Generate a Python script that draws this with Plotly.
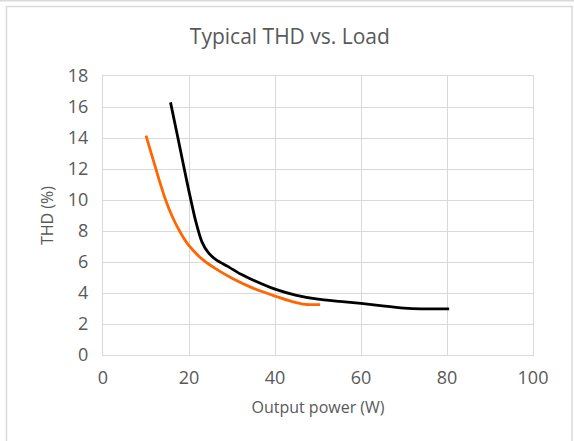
import plotly.graph_objects as go

# Data
black_x = [15.7, 17.5, 19.5, 21.5, 23.0, 24.5, 26.5, 29.0, 32.0, 35.0, 40.0, 45.0, 50.0, 55.0, 60.0, 65.0, 70.0, 74.0, 80.5]
black_y = [16.3, 13.9, 11.2, 8.7, 7.3, 6.6, 6.1, 5.72, 5.22, 4.82, 4.25, 3.85, 3.6, 3.46, 3.33, 3.17, 3.03, 2.98, 2.98]

orange_x = [10.0, 11.5, 13.0, 14.5, 16.0, 18.0, 20.0, 23.0, 26.0, 30.0, 35.0, 40.0, 44.0, 47.0, 50.5]
orange_y = [14.15, 12.75, 11.35, 10.05, 9.0, 7.9, 7.05, 6.2, 5.6, 4.95, 4.3, 3.8, 3.45, 3.27, 3.25]

x_ticks = [0, 20, 40, 60, 80, 100]
y_ticks = [0, 2, 4, 6, 8, 10, 12, 14, 16, 18]

W, H = 574, 441
L, R, T, B = 103, 41, 76, 86
PW, PH = W - L - R, H - T - B

def px(x):
    return (x - L) / PW

def py(y):
    return (H - B - y) / PH

font = "Open Sans, Liberation Sans, sans-serif"
grey = "#595959"
grid = "#D9D9D9"

fig = go.Figure()
fig.add_trace(go.Scatter(x=orange_x, y=orange_y, mode="lines",
                         line=dict(color="#FF6600", width=2.8, shape="spline", smoothing=0.5),
                         showlegend=False, hoverinfo="skip"))
fig.add_trace(go.Scatter(x=black_x, y=black_y, mode="lines",
                         line=dict(color="#000000", width=2.8, shape="spline", smoothing=0.5),
                         showlegend=False, hoverinfo="skip"))

fig.update_layout(
    width=W, height=H,
    margin=dict(l=L, r=R, t=T, b=B),
    paper_bgcolor="white", plot_bgcolor="white",
    title=dict(text="Typical THD vs. Load", x=0.505, xanchor="center",
               y=1 - 37 / H, yanchor="middle",
               font=dict(family=font, size=21, color=grey)),
    font=dict(family=font, color=grey),
    shapes=[
        dict(type="line", xref="paper", yref="paper", x0=px(0), x1=px(W), y0=py(0.8), y1=py(0.8),
             line=dict(color="#D9D9D9", width=1.5), layer="below"),
        dict(type="rect", xref="paper", yref="paper", x0=px(6.5), x1=px(572), y0=py(6.5), y1=py(H + 5),
             line=dict(color="#D9D9D9", width=1.5), layer="below"),
    ],
)
fig.update_xaxes(range=[0, 100], tickvals=x_ticks, showgrid=True, gridcolor=grid, gridwidth=1,
                 showline=True, linecolor=grid, linewidth=1, mirror=True, zeroline=False,
                 ticks="", tickfont=dict(size=18, color=grey), ticklabelstandoff=6,
                 title=dict(text="Output power (W)", font=dict(size=16, color=grey), standoff=14))
fig.update_yaxes(range=[0, 18], tickvals=y_ticks, showgrid=True, gridcolor=grid, gridwidth=1,
                 showline=True, linecolor=grid, linewidth=1, mirror=True, zeroline=False,
                 ticks="", tickfont=dict(size=18, color=grey), ticklabelstandoff=10,
                 title=dict(text="THD (%)", font=dict(size=16, color=grey), standoff=10))

fig.write_html("out.html", config={"displayModeBar": False},
               post_script="document.body.style.margin='0';")
